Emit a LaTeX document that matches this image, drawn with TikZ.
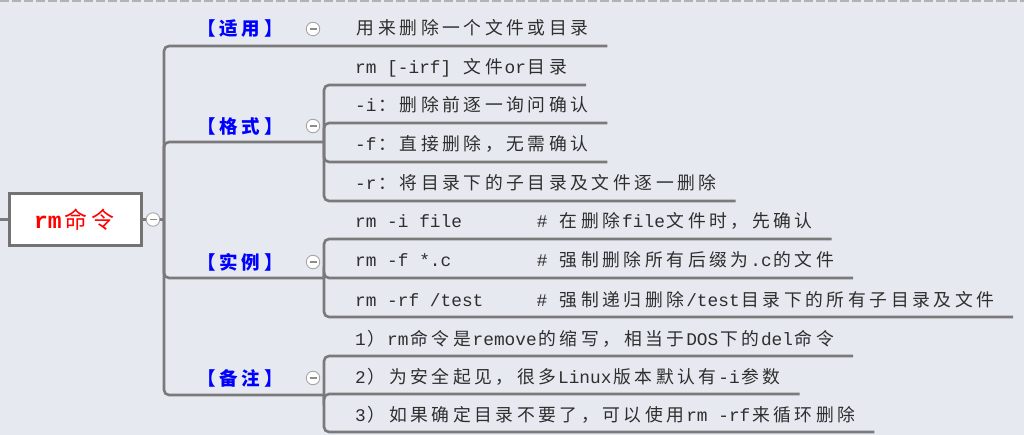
\documentclass[tikz,border=0pt]{standalone}
\usepackage{fontspec}
\setmainfont{Liberation Mono}
\newfontfamily\cjk[LetterSpace=20]{Noto Sans CJK SC}
\newcommand{\zh}[1]{\kern0.1em{\cjk #1}\kern0.1em}
\newlength{\hw}
\setlength{\hw}{10.68pt}
\newcommand{\cmd}[1]{\makebox[17\hw][l]{#1}}
\usetikzlibrary{positioning}
\definecolor{bgc}{HTML}{E6E9F0}
\definecolor{linec}{HTML}{7A7A7A}
\definecolor{txtc}{HTML}{2E2E2E}

\begin{document}
\begin{tikzpicture}[x=1pt, y=-1pt,
  conn/.style={draw=linec, line width=2.6pt, rounded corners=5pt},
  item/.style={anchor=base west, inner sep=0pt, text=txtc, font=\fontsize{17.8}{20}\selectfont},
  tag/.style={inner sep=0pt, text=blue, font=\fontsize{18.5}{20}\selectfont\cjk\bfseries},
  toggle/.style={circle, draw=black!35, fill=white, line width=0.9pt, minimum size=13.5pt, inner sep=0pt,
    path picture={\draw[black!45, line width=1.2pt] ([xshift=-3.5pt]path picture bounding box.center) -- ([xshift=3.5pt]path picture bounding box.center);}},
  rootbox/.style={draw=black!55, line width=2.6pt, fill=white, minimum width=132pt, minimum height=52pt, text=red, font=\fontsize{23}{26}\selectfont}
]
\useasboundingbox (0,0) rectangle (1024,435);
\fill[bgc] (0,0) rectangle (1024,435);
\draw[black!30, line width=1.4pt, dash pattern=on 9pt off 3pt] (0,1) -- (1024,1);

% root
\node[rootbox] (root) at (75.5,219.5) {{\bfseries rm}\zh{命令}};
\node[toggle, right=3pt of root] (rootT) {};
\coordinate (lstub) at (0,219.5);
\coordinate (hub) at (164,219.5);
\draw[conn] (lstub) -- (root.west);
\draw[conn] (root.east) -- (rootT.west);
\draw[conn] (rootT.east) -- (hub);

% branches
\node[tag] (shiyong) at (240,29) {【适用】};
\node[tag] (geshi) at (240,126) {【格式】};
\node[tag] (shili) at (240,262) {【实例】};
\node[tag] (beizhu) at (240,378) {【备注】};
\node[toggle] (shiyongT) at (313,29) {};
\node[toggle] (geshiT) at (313,126) {};
\node[toggle] (shiliT) at (313,262) {};
\node[toggle] (beizhuT) at (313,378) {};
\coordinate (geshiH) at (324,142);
\coordinate (shiliH) at (324,278);
\coordinate (beizhuH) at (324,395);

% leaves
\node[item] (c0) at (355,35) {\zh{用来删除一个文件或目录}};
\node[item] (f1) at (355,74) {rm [-irf] \zh{文件}or\zh{目录}};
\node[item] (f2) at (355,112) {-i\zh{：删除前逐一询问确认}};
\node[item] (f3) at (355,151) {-f\zh{：直接删除，无需确认}};
\node[item] (f4) at (355,190) {-r\zh{：将目录下的子目录及文件逐一删除}};
\node[item] (e1) at (355,228) {\cmd{rm -i file}\# \zh{在删除}file\zh{文件时，先确认}};
\node[item] (e2) at (355,267) {\cmd{rm -f *.c}\# \zh{强制删除所有后缀为}.c\zh{的文件}};
\node[item] (e3) at (355,306) {\cmd{rm -rf /test}\# \zh{强制递归删除}/test\zh{目录下的所有子目录及文件}};
\node[item] (n1) at (355,345) {1\zh{）}rm\zh{命令是}remove\zh{的缩写，相当于}DOS\zh{下的}del\zh{命令}};
\node[item] (n2) at (355,383) {2\zh{）为安全起见，很多}Linux\zh{版本默认有}-i\zh{参数}};
\node[item] (n3) at (355,421) {3\zh{）如果确定目录不要了，可以使用}rm -rf\zh{来循环删除}};

% connectors
\draw[conn] (hub) |- ([xshift=17pt,yshift=-11pt]c0.base east);
\draw[conn] (hub) |- (geshiH);
\draw[conn] (hub) |- (shiliH);
\draw[conn] (hub) |- (beizhuH);
\draw[conn] (geshiH) |- ([xshift=17pt,yshift=-11pt]f1.base east);
\draw[conn] (geshiH) |- ([xshift=17pt,yshift=-11pt]f2.base east);
\draw[conn] (geshiH) |- ([xshift=17pt,yshift=-11pt]f3.base east);
\draw[conn] (geshiH) |- ([xshift=17pt,yshift=-11pt]f4.base east);
\draw[conn] (shiliH) |- ([xshift=17pt,yshift=-11pt]e1.base east);
\draw[conn] (shiliH) |- ([xshift=17pt,yshift=-11pt]e2.base east);
\draw[conn] (shiliH) |- ([xshift=17pt,yshift=-11pt]e3.base east);
\draw[conn] (beizhuH) |- ([xshift=17pt,yshift=-11pt]n1.base east);
\draw[conn] (beizhuH) |- ([xshift=17pt,yshift=-11pt]n2.base east);
\draw[conn] (beizhuH) |- ([xshift=17pt,yshift=-11pt]n3.base east);
\end{tikzpicture}
\end{document}
